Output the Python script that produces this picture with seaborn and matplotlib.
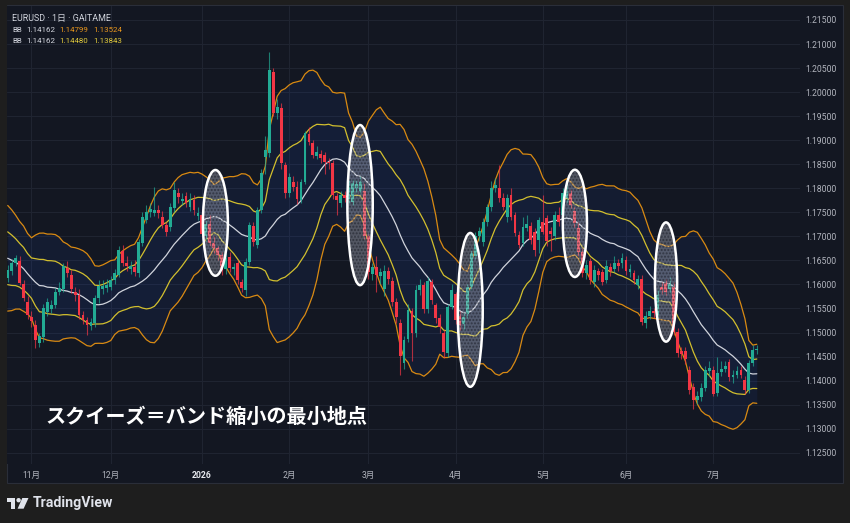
import numpy as np
import pandas as pd
import seaborn as sns
import matplotlib.pyplot as plt
from matplotlib.patches import Ellipse, Rectangle, Circle, Polygon

# EURUSD daily candles (GAITAME), 2025-10-24 .. 2026-07-16
dates = pd.bdate_range('2025-10-24', '2026-07-16')

opens = [1.1614, 1.1627, 1.1644, 1.1649, 1.1601, 1.1564, 1.1533, 1.1516, 1.1479, 1.1491,
         1.1543, 1.1548, 1.1557, 1.1585, 1.1590, 1.1634, 1.1620, 1.1585, 1.1578, 1.1536,
         1.1526, 1.1514, 1.1519, 1.1571, 1.1590, 1.1592, 1.1594, 1.1609, 1.1620, 1.1670,
         1.1645, 1.1632, 1.1637, 1.1623, 1.1686, 1.1734, 1.1750, 1.1748, 1.1755, 1.1741,
         1.1724, 1.1720, 1.1758, 1.1791, 1.1773, 1.1783, 1.1760, 1.1776, 1.1742, 1.1745,
         1.1700, 1.1726, 1.1686, 1.1675, 1.1661, 1.1633, 1.1658, 1.1632, 1.1645, 1.1606,
         1.1588, 1.1647, 1.1721, 1.1682, 1.1755, 1.1866, 1.1873, 1.2042, 1.1956, 1.1966,
         1.1849, 1.1790, 1.1814, 1.1803, 1.1776, 1.1814, 1.1912, 1.1894, 1.1868, 1.1872,
         1.1869, 1.1855, 1.1852, 1.1783, 1.1769, 1.1786, 1.1778, 1.1772, 1.1800, 1.1794,
         1.1795, 1.1700, 1.1622, 1.1637, 1.1618, 1.1590, 1.1628, 1.1608, 1.1564, 1.1520,
         1.1436, 1.1486, 1.1545, 1.1500, 1.1588, 1.1598, 1.1548, 1.1606, 1.1557, 1.1530,
         1.1498, 1.1457, 1.1554, 1.1580, 1.1535, 1.1517, 1.1539, 1.1595, 1.1660, 1.1700,
         1.1688, 1.1730, 1.1760, 1.1800, 1.1800, 1.1780, 1.1740, 1.1786, 1.1744, 1.1703,
         1.1687, 1.1718, 1.1722, 1.1710, 1.1692, 1.1730, 1.1738, 1.1712, 1.1700, 1.1744,
         1.1744, 1.1780, 1.1790, 1.1752, 1.1717, 1.1668, 1.1623, 1.1648, 1.1605, 1.1628,
         1.1625, 1.1610, 1.1636, 1.1632, 1.1645, 1.1645, 1.1650, 1.1626, 1.1623, 1.1598,
         1.1612, 1.1520, 1.1535, 1.1545, 1.1536, 1.1595, 1.1602, 1.1590, 1.1595, 1.1502,
         1.1462, 1.1462, 1.1422, 1.1387, 1.1360, 1.1366, 1.1384, 1.1420, 1.1422, 1.1374,
         1.1418, 1.1425, 1.1439, 1.1408, 1.1412, 1.1422, 1.1401, 1.1380, 1.1436, 1.1463]

highs = [1.1640, 1.1652, 1.1662, 1.1660, 1.1610, 1.1575, 1.1545, 1.1525, 1.1500, 1.1560,
         1.1572, 1.1568, 1.1592, 1.1605, 1.1645, 1.1648, 1.1630, 1.1595, 1.1590, 1.1545,
         1.1532, 1.1530, 1.1578, 1.1610, 1.1610, 1.1612, 1.1618, 1.1632, 1.1680, 1.1682,
         1.1660, 1.1648, 1.1650, 1.1695, 1.1750, 1.1765, 1.1770, 1.1803, 1.1765, 1.1752,
         1.1730, 1.1770, 1.1812, 1.1800, 1.1790, 1.1792, 1.1790, 1.1785, 1.1760, 1.1756,
         1.1735, 1.1745, 1.1700, 1.1680, 1.1668, 1.1665, 1.1668, 1.1645, 1.1650, 1.1612,
         1.1655, 1.1730, 1.1730, 1.1760, 1.1840, 1.1908, 1.2083, 1.2050, 1.1985, 1.1978,
         1.1855, 1.1832, 1.1825, 1.1815, 1.1820, 1.1920, 1.1928, 1.1900, 1.1888, 1.1880,
         1.1875, 1.1862, 1.1858, 1.1790, 1.1795, 1.1795, 1.1818, 1.1820, 1.1818, 1.1825,
         1.1810, 1.1705, 1.1645, 1.1660, 1.1635, 1.1640, 1.1636, 1.1615, 1.1572, 1.1528,
         1.1492, 1.1560, 1.1552, 1.1598, 1.1612, 1.1605, 1.1615, 1.1612, 1.1562, 1.1538,
         1.1505, 1.1560, 1.1600, 1.1585, 1.1545, 1.1540, 1.1600, 1.1672, 1.1710, 1.1720,
         1.1738, 1.1768, 1.1815, 1.1822, 1.1848, 1.1790, 1.1788, 1.1800, 1.1750, 1.1712,
         1.1740, 1.1745, 1.1730, 1.1718, 1.1740, 1.1786, 1.1745, 1.1720, 1.1752, 1.1760,
         1.1800, 1.1810, 1.1798, 1.1760, 1.1730, 1.1675, 1.1650, 1.1655, 1.1640, 1.1635,
         1.1632, 1.1650, 1.1645, 1.1660, 1.1652, 1.1665, 1.1660, 1.1642, 1.1630, 1.1620,
         1.1620, 1.1545, 1.1555, 1.1552, 1.1590, 1.1605, 1.1612, 1.1615, 1.1605, 1.1510,
         1.1470, 1.1470, 1.1430, 1.1395, 1.1378, 1.1395, 1.1430, 1.1440, 1.1430, 1.1450,
         1.1440, 1.1440, 1.1445, 1.1422, 1.1430, 1.1430, 1.1410, 1.1442, 1.1475, 1.1475]

lows = [1.1605, 1.1620, 1.1638, 1.1598, 1.1565, 1.1528, 1.1512, 1.1468, 1.1470, 1.1480,
        1.1535, 1.1540, 1.1550, 1.1578, 1.1585, 1.1615, 1.1582, 1.1565, 1.1528, 1.1518,
        1.1494, 1.1505, 1.1512, 1.1562, 1.1580, 1.1585, 1.1588, 1.1600, 1.1615, 1.1638,
        1.1628, 1.1622, 1.1618, 1.1615, 1.1680, 1.1728, 1.1740, 1.1742, 1.1738, 1.1718,
        1.1700, 1.1712, 1.1750, 1.1770, 1.1765, 1.1760, 1.1752, 1.1745, 1.1735, 1.1700,
        1.1690, 1.1680, 1.1665, 1.1650, 1.1620, 1.1622, 1.1625, 1.1620, 1.1600, 1.1585,
        1.1575, 1.1640, 1.1680, 1.1675, 1.1748, 1.1830, 1.1865, 1.1950, 1.1945, 1.1840,
        1.1780, 1.1782, 1.1795, 1.1768, 1.1770, 1.1808, 1.1890, 1.1862, 1.1860, 1.1852,
        1.1830, 1.1840, 1.1778, 1.1745, 1.1760, 1.1772, 1.1770, 1.1765, 1.1790, 1.1788,
        1.1695, 1.1612, 1.1610, 1.1585, 1.1600, 1.1575, 1.1600, 1.1555, 1.1520, 1.1412,
        1.1425, 1.1480, 1.1440, 1.1490, 1.1578, 1.1540, 1.1540, 1.1560, 1.1520, 1.1500,
        1.1448, 1.1450, 1.1548, 1.1518, 1.1505, 1.1505, 1.1530, 1.1588, 1.1652, 1.1690,
        1.1680, 1.1722, 1.1752, 1.1792, 1.1772, 1.1755, 1.1730, 1.1735, 1.1700, 1.1675,
        1.1680, 1.1712, 1.1685, 1.1660, 1.1665, 1.1705, 1.1680, 1.1670, 1.1692, 1.1722,
        1.1738, 1.1770, 1.1758, 1.1720, 1.1660, 1.1615, 1.1612, 1.1600, 1.1595, 1.1610,
        1.1598, 1.1602, 1.1618, 1.1625, 1.1628, 1.1635, 1.1620, 1.1615, 1.1600, 1.1590,
        1.1515, 1.1510, 1.1528, 1.1530, 1.1530, 1.1580, 1.1578, 1.1583, 1.1495, 1.1450,
        1.1445, 1.1435, 1.1372, 1.1340, 1.1352, 1.1358, 1.1378, 1.1410, 1.1368, 1.1368,
        1.1410, 1.1418, 1.1400, 1.1395, 1.1405, 1.1405, 1.1372, 1.1375, 1.1430, 1.1455]

closes = [1.1630, 1.1645, 1.1654, 1.1603, 1.1572, 1.1536, 1.1523, 1.1484, 1.1493, 1.1550,
          1.1564, 1.1557, 1.1585, 1.1593, 1.1638, 1.1624, 1.1590, 1.1578, 1.1536, 1.1526,
          1.1516, 1.1522, 1.1571, 1.1597, 1.1597, 1.1599, 1.1609, 1.1624, 1.1672, 1.1645,
          1.1638, 1.1638, 1.1626, 1.1689, 1.1740, 1.1750, 1.1756, 1.1755, 1.1748, 1.1724,
          1.1708, 1.1762, 1.1796, 1.1781, 1.1777, 1.1769, 1.1778, 1.1754, 1.1748, 1.1705,
          1.1725, 1.1686, 1.1675, 1.1661, 1.1630, 1.1655, 1.1634, 1.1636, 1.1609, 1.1592,
          1.1647, 1.1723, 1.1689, 1.1755, 1.1831, 1.1880, 1.2047, 1.1956, 1.1970, 1.1852,
          1.1790, 1.1824, 1.1803, 1.1777, 1.1814, 1.1914, 1.1896, 1.1869, 1.1875, 1.1862,
          1.1855, 1.1852, 1.1786, 1.1776, 1.1786, 1.1780, 1.1803, 1.1810, 1.1808, 1.1814,
          1.1700, 1.1625, 1.1637, 1.1620, 1.1625, 1.1628, 1.1612, 1.1564, 1.1533, 1.1452,
          1.1484, 1.1547, 1.1500, 1.1588, 1.1598, 1.1548, 1.1608, 1.1568, 1.1530, 1.1512,
          1.1460, 1.1554, 1.1589, 1.1525, 1.1515, 1.1532, 1.1595, 1.1665, 1.1700, 1.1712,
          1.1730, 1.1760, 1.1800, 1.1806, 1.1780, 1.1762, 1.1779, 1.1741, 1.1706, 1.1682,
          1.1720, 1.1726, 1.1692, 1.1672, 1.1734, 1.1710, 1.1690, 1.1705, 1.1744, 1.1730,
          1.1790, 1.1792, 1.1765, 1.1728, 1.1668, 1.1623, 1.1640, 1.1610, 1.1630, 1.1620,
          1.1605, 1.1638, 1.1628, 1.1645, 1.1638, 1.1655, 1.1628, 1.1632, 1.1610, 1.1612,
          1.1522, 1.1535, 1.1545, 1.1540, 1.1578, 1.1588, 1.1585, 1.1600, 1.1501, 1.1457,
          1.1455, 1.1445, 1.1380, 1.1360, 1.1368, 1.1385, 1.1422, 1.1426, 1.1373, 1.1416,
          1.1425, 1.1430, 1.1408, 1.1412, 1.1420, 1.1412, 1.1380, 1.1436, 1.1464, 1.1466]

# closes of the 19 sessions before the first visible candle (the 20-day bands need them)
warmup_closes = [1.1726, 1.1734, 1.1731, 1.1716, 1.1741, 1.1711, 1.1658, 1.1628, 1.1563, 1.1617,
                 1.1569, 1.1605, 1.1646, 1.1689, 1.1652, 1.1645, 1.1599, 1.1611, 1.1617]

month_labels = ['11月', '12月', '2026', '2月', '3月', '4月', '5月', '6月', '7月']

# squeeze markers (centre candle, centre price, width in candles, height in price)
squeeze_x = [52.4, 88.9, 116.7, 143.1, 166.1]
squeeze_y = [1.1728, 1.1765, 1.1547, 1.1727, 1.1605]
squeeze_w = [6.3, 6.4, 6.3, 6.1, 5.6]
squeeze_h = [0.0220, 0.0333, 0.0320, 0.0223, 0.0248]

BG = '#131722'
UP, DOWN = '#22ab94', '#f23645'
ORANGE, YELLOW, WHITE = '#d98a12', '#d2bf2e', '#d1d4dc'

sns.set_style('dark', rc={'axes.facecolor': BG, 'figure.facecolor': '#1e1e1e'})
plt.rcParams['font.family'] = ['Roboto', 'Noto Sans CJK JP', 'DejaVu Sans']

# Bollinger bands 20, 1 and 2 sigma
all_close = pd.Series(warmup_closes + closes)
n_warm = len(warmup_closes)
mid = all_close.rolling(20).mean().iloc[n_warm:].to_numpy()
sd = all_close.rolling(20).std(ddof=0).iloc[n_warm:].to_numpy()
idx = np.arange(len(closes))
bands = pd.DataFrame({'idx': idx, 'mid': mid,
                      'up2': mid + 2 * sd, 'lo2': mid - 2 * sd,
                      'up1': mid + sd, 'lo1': mid - sd})

fig = plt.figure(figsize=(8.5, 5.23), dpi=100)
fig.add_artist(Rectangle((7 / 850, 40 / 523), 836 / 850, 478 / 523, transform=fig.transFigure,
                         facecolor=BG, edgecolor='#2a2e39', lw=0.8, zorder=-1))
ax = fig.add_axes([7 / 850, 59 / 523, 793 / 850, 458 / 523])
ax.set_facecolor(BG)

ax.fill_between(idx, bands['lo2'], bands['up2'], color='#2962ff', alpha=0.07, lw=0, zorder=1)
ax.fill_between(idx, bands['lo1'], bands['up1'], color='#2962ff', alpha=0.03, lw=0, zorder=1)
for name, color in [('up2', ORANGE), ('lo2', ORANGE), ('up1', YELLOW), ('lo1', YELLOW), ('mid', WHITE)]:
    sns.lineplot(data=bands, x='idx', y=name, ax=ax, color=color, lw=0.9, zorder=2)

# candles
o, h, l, c = map(np.array, (opens, highs, lows, closes))
colors = np.where(c >= o, UP, DOWN)
ax.vlines(idx, l, h, colors=colors, lw=0.8, alpha=0.7, zorder=3)
ax.bar(idx, np.maximum(np.abs(c - o), 0.00005), bottom=np.minimum(o, c), width=0.72,
       color=colors, linewidth=0, zorder=4)

# squeeze ellipses
for x, y, w, hh in zip(squeeze_x, squeeze_y, squeeze_w, squeeze_h):
    ax.add_patch(Ellipse((x, y), w, hh, facecolor=(0.85, 0.87, 0.92, 0.32), edgecolor='none', zorder=5))
    ax.add_patch(Ellipse((x, y), w, hh, facecolor='none', edgecolor=(0.05, 0.06, 0.09, 0.45),
                         hatch='.....', lw=0, zorder=5))
    ax.add_patch(Ellipse((x, y), w, hh, facecolor='none', edgecolor='white', lw=1.8, zorder=6))

ax.set_xlim(-0.18, 199.9)
ax.set_ylim(1.12265, 1.21791)
ax.set_xlabel('')
ax.set_ylabel('')

yt = np.arange(1.125, 1.2151, 0.005)
ax.set_yticks(yt)
ax.set_yticklabels([f'{v:.5f}' for v in yt])
ax.yaxis.tick_right()
ax.tick_params(axis='y', length=0, pad=4, labelsize=6.2, labelcolor='#b2b5be')

month_starts = [i for i in range(1, len(dates)) if dates[i].month != dates[i - 1].month]
ax.set_xticks(month_starts)
ax.set_xticklabels(month_labels)
ax.tick_params(axis='x', length=0, pad=5, labelsize=6.2, labelcolor='#b2b5be')
for t in ax.get_xticklabels():
    if t.get_text() == '2026':
        t.set_fontweight('bold')
        t.set_color('#e6e8ee')

ax.grid(True, color='#1f2431', lw=0.8)
ax.set_axisbelow(True)
for s in ax.spines.values():
    s.set_visible(False)

# overlay in pixel coordinates for texts and logo
ov = fig.add_axes([0, 0, 1, 1], zorder=10)
ov.set_xlim(0, 850)
ov.set_ylim(523, 0)
ov.axis('off')

fs = 5.7
ov.text(12, 18, 'EURUSD · 1日 · GAITAME', fontsize=6.4, color='#d1d4dc', va='center')
ov.text(12, 30, 'BB', fontsize=fs, color='#d1d4dc', va='center')
ov.text(26.5, 30, '1.14162', fontsize=fs, color='#d1d4dc', va='center')
ov.text(59, 30, '1.14799', fontsize=fs, color='#e8961d', va='center')
ov.text(93, 30, '1.13524', fontsize=fs, color='#e8961d', va='center')
ov.text(12, 41, 'BB', fontsize=fs, color='#d1d4dc', va='center')
ov.text(26.5, 41, '1.14162', fontsize=fs, color='#d1d4dc', va='center')
ov.text(59, 41, '1.14480', fontsize=fs, color='#e0c93c', va='center')
ov.text(93.5, 41, '1.13843', fontsize=fs, color='#e0c93c', va='center')

ov.text(45, 416, 'スクイーズ＝バンド縮小の最小地点', fontsize=14.5, fontweight='bold',
        color='white', va='center', family=['Noto Sans CJK JP', 'DejaVu Sans'])

# TradingView logo
logo = '#e0e3eb'
ov.add_patch(Rectangle((7.5, 498), 8, 4.2, color=logo, lw=0))
ov.add_patch(Rectangle((11.3, 498), 4.2, 10.7, color=logo, lw=0))
ov.add_patch(Circle((18.6, 500.2), 2.2, color=logo, lw=0))
ov.add_patch(Polygon([(22.3, 498), (28.5, 498), (23.6, 508.7), (17.6, 508.7)], color=logo, lw=0))
ov.text(33, 503.5, 'TradingView', fontsize=10.2, fontweight='bold', color=logo, va='center')

fig.savefig('out.png', dpi=100, facecolor=fig.get_facecolor())
